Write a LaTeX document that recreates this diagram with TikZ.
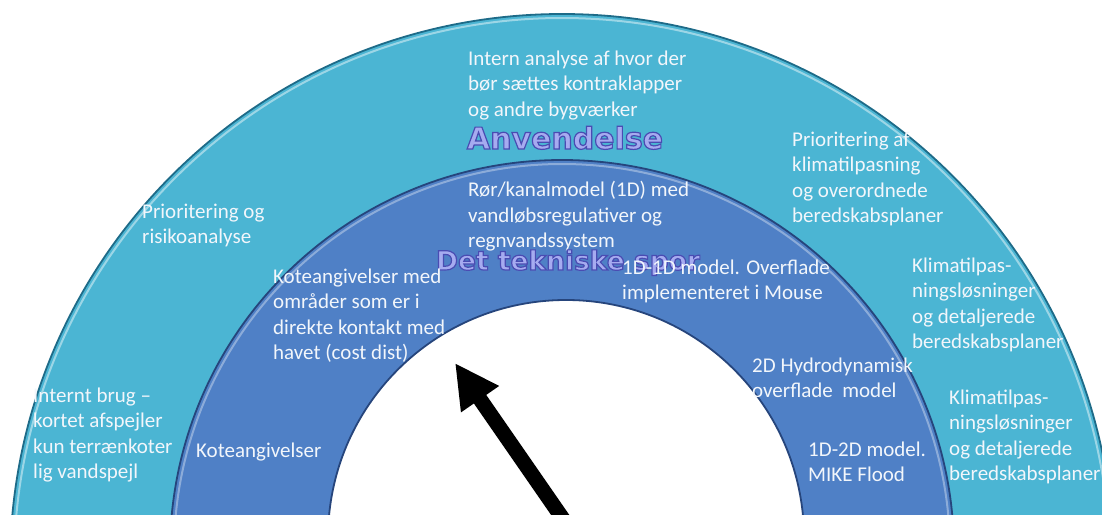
\documentclass[tikz,border=0pt]{standalone}
\usepackage{fontspec}
\setmainfont{Carlito}
\newfontfamily\headfont{DejaVu Sans}
\usetikzlibrary{arrows.meta}

\definecolor{ringout}{HTML}{4BB5D3}
\definecolor{ringoutedge}{HTML}{1E6B88}
\definecolor{ringmid}{HTML}{4F80C6}
\definecolor{ringmidedge}{HTML}{26457C}
\definecolor{innerfill}{HTML}{FFFFFF}
\definecolor{labeltext}{HTML}{F2F6FB}
\definecolor{wordfill}{HTML}{A6ABF0}

% outlined (fill + stroke) lettering for the two ring titles
\newcommand\wordart[1]{\special{pdf:literal direct 2 Tr 1.2 w 0.29 0.30 0.70 RG}#1\special{pdf:literal direct 0 Tr}}
% fixed height for the first line of each text block
\newcommand\lstrut{\rule{0pt}{15pt}}

\begin{document}
\begin{tikzpicture}[x=1pt,y=-1pt,
  blocktext/.style={font=\fontsize{21}{25.5}\selectfont, text=labeltext,
    align=left, anchor=north west, inner sep=0pt},
  ringtitle/.style={font=\headfont\bfseries\fontsize{30}{30}\selectfont,
    text=wordfill, inner sep=0pt, anchor=base},
  pointer/.style={line width=15pt, draw=black,
    -{Triangle[length=44pt,width=43pt]}}]

\useasboundingbox (0,0) rectangle (1102,514);
\coordinate (cout) at (562,566);
\coordinate (cmid) at (562,552);
\coordinate (cin)  at (566,538);

\begin{scope}
  \clip (0,0) rectangle (1102,514);
  % outer ring
  \fill[ringout] (cout) circle[radius=552];
  \draw[ringoutedge, line width=1.8pt] (cout) circle[radius=552];
  \draw[white, opacity=0.45, line width=2pt] (cout) circle[radius=548];
  % middle ring
  \fill[ringmid] (cmid) circle[radius=392];
  \draw[ringmidedge, line width=1.8pt] (cmid) circle[radius=392];
  \draw[white, opacity=0.35, line width=2pt] (cmid) circle[radius=388];
  % centre
  \fill[innerfill] (cin) circle[radius=238];
  \draw[ringmidedge, line width=1.8pt] (cin) circle[radius=238];
\end{scope}

% outer ring texts
\node[blocktext] (intern) at (468,50) {\lstrut Intern analyse af hvor der\\bør sættes kontraklapper\\og andre bygværker};
\node[ringtitle] (anv) at (565,149) {\wordart{Anvendelse}};
\node[blocktext] (priorisk) at (142,203) {\lstrut Prioritering og\\risikoanalyse};
\node[blocktext] (prioklima) at (792,131) {\lstrut Prioritering af\\klimatilpasning\\og overordnede\\beredskabsplaner};
\node[blocktext] (klimaA) at (912,257) {\lstrut Klimatilpas-\\ningsløsninger\\og detaljerede\\beredskabsplaner};
\node[blocktext] (internt) at (33,387) {\lstrut Internt brug –\\kortet afspejler\\kun terrænkoter\\lig vandspejl};
\node[blocktext] (klimaB) at (949,389) {\lstrut Klimatilpas-\\ningsløsninger\\og detaljerede\\beredskabsplaner};

% middle ring texts
\node[blocktext] (rorkanal) at (468,181) {\lstrut Rør/kanalmodel (1D) med\\vandløbsregulativer og\\regnvandssystem};
\node[ringtitle, font=\headfont\bfseries\fontsize{26.5}{26.5}\selectfont] (teknisk) at (568,270) {\wordart{Det tekniske spor}};
\node[blocktext] (oneone) at (622,259) {\lstrut 1D-1D model. Overflade\\implementeret i Mouse};
\node[blocktext] (koteA) at (273,268) {\lstrut Koteangivelser med\\områder som er i\\direkte kontakt med\\havet (cost dist)};
\node[blocktext] (hydro) at (752,357) {\lstrut 2D Hydrodynamisk\\overflade\ \ model};
\node[blocktext] (koteB) at (196,442) {\lstrut Koteangivelser};
\node[blocktext] (onetwo) at (808,441) {\lstrut 1D-2D model.\\MIKE Flood};

% pointer
\coordinate (base) at (572,532);
\coordinate (tip) at (455,363);
\draw[pointer] (base) -- (tip);
\end{tikzpicture}
\end{document}
